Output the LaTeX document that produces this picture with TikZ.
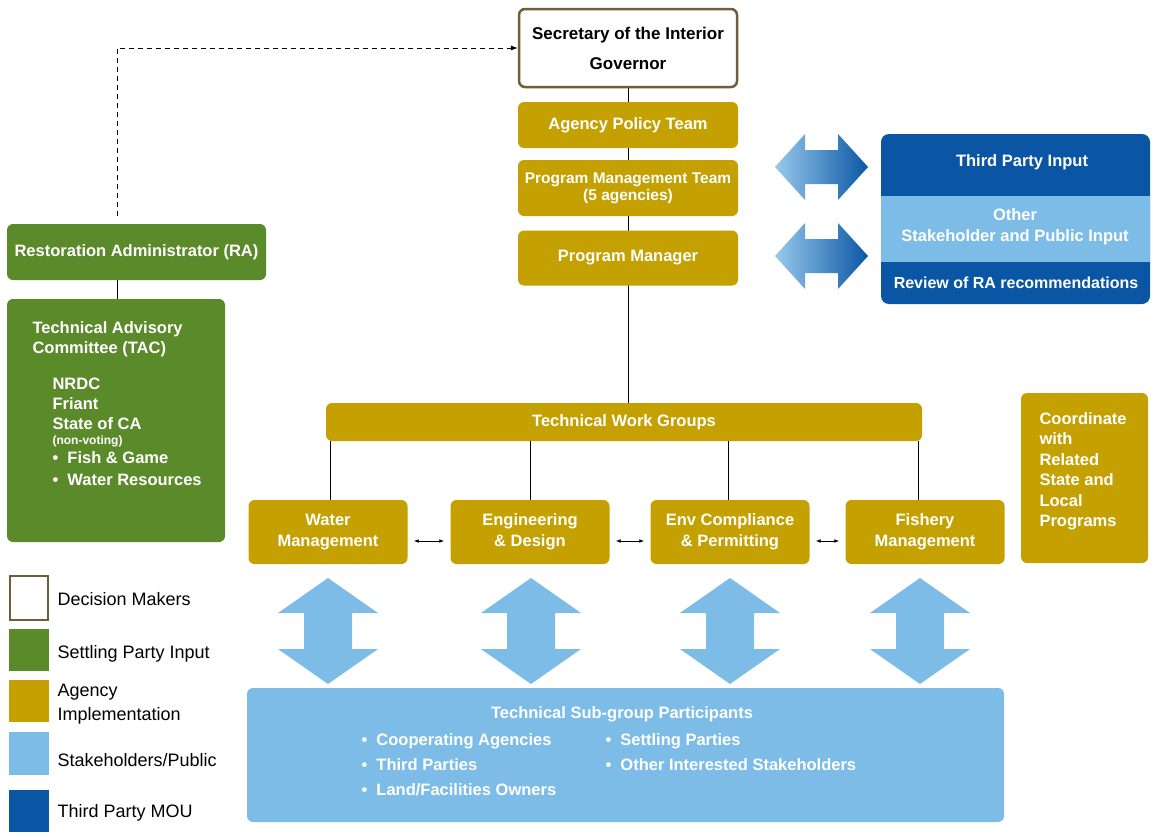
\documentclass[tikz,border=0pt]{standalone}
\usepackage{fontspec}
\setmainfont{Liberation Sans}
\usetikzlibrary{arrows.meta}
\definecolor{gold}{HTML}{C4A000}
\definecolor{grn}{HTML}{5B8A2B}
\definecolor{lblue}{HTML}{7DBCE7}
\definecolor{dblue}{HTML}{0B56A4}
\definecolor{brn}{HTML}{6E5E3A}
\tikzset{
 box/.style={rounded corners=6pt,draw=none,text=white,font=\bfseries\fontsize{16.5}{17}\selectfont,align=center,inner sep=0pt},
 gbox/.style={box,fill=gold},
 grbox/.style={box,fill=grn},
 ln/.style={line width=0.8pt,black},
 leg/.style={anchor=west,font=\fontsize{18}{20}\selectfont,align=left,text=black},
}
\begin{document}
\begin{tikzpicture}[x=1pt,y=-1pt]
\useasboundingbox (0,0) rectangle (1160,839);
\coordinate (v1) at (628,88);
\coordinate (v2) at (628,403);
\draw[ln] (v1)--(v2);
\node[box,fill=white,text=black,draw=brn,line width=2.5pt,minimum width=218pt,minimum height=78pt,font=\bfseries\fontsize{17}{18}\selectfont] (sec) at (628,48) {Secretary of the Interior\\[12pt]Governor};
\node[gbox,minimum width=220pt,minimum height=46pt] (apt) at (628,125) {Agency Policy Team};
\node[gbox,minimum width=220pt,minimum height=56pt,font=\bfseries\fontsize{15.5}{17}\selectfont] (pmt) at (628,188) {Program Management Team\\(5 agencies)};
\node[gbox,minimum width=220pt,minimum height=55pt] (pm) at (628,258) {Program Manager};
\node[gbox,minimum width=596pt,minimum height=38pt] (twg) at (624,422) {Technical Work Groups};
\foreach \n/\x/\t in {wm/328/Water\\Management, ed/530/Engineering\\\& Design, ec/730/Env Compliance\\\& Permitting, fm/925/Fishery\\Management}{
 \node[gbox,minimum width=159pt,minimum height=64pt,font=\bfseries\fontsize{16.5}{21}\selectfont] (\n) at (\x,532) {\t};
}
\foreach \n/\x in {wm/330,ed/530,ec/728,fm/918}{
 \coordinate (t\n) at (\x,441);
 \draw[ln] (t\n) -- (t\n |- \n.north);
}
\foreach \a/\b in {wm/ed,ed/ec,ec/fm}{
 \draw[ln,{Latex[length=5pt]}-{Latex[length=5pt]},shorten <=6pt,shorten >=6pt] ([yshift=-9pt]\a.east) -- ([yshift=-9pt]\b.west);
}
\foreach \cx in {328,531,730,920}{
 \fill[lblue] (\cx,578)--(\cx+50,613)--(\cx+24,613)--(\cx+24,649)--(\cx+50,649)--(\cx,684)--(\cx-50,649)--(\cx-24,649)--(\cx-24,613)--(\cx-50,613)--cycle;
}
\node[box,fill=lblue,minimum width=757pt,minimum height=134pt] (sub) at (625.5,755) {};
\node[font=\bfseries\fontsize{16.5}{17}\selectfont,text=white] (subt) at (622,714) {Technical Sub-group Participants};
\node[font=\bfseries\fontsize{16.5}{25}\selectfont,text=white,align=left,anchor=north west] (subl) at (358,730) {•\ \ Cooperating Agencies\\•\ \ Third Parties\\•\ \ Land/Facilities Owners};
\node[font=\bfseries\fontsize{16.5}{25}\selectfont,text=white,align=left,anchor=north west] (subr) at (602,730) {•\ \ Settling Parties\\•\ \ Other Interested Stakeholders};
% left
\node[grbox,minimum width=259pt,minimum height=56pt] (ra) at (136.5,252) {Restoration Administrator (RA)};
\node[grbox,minimum width=218pt,minimum height=243pt] (tac) at (116,420.5) {};
\draw[ln] (ra.south -| 117,0) -- (tac.north -| 117,0);
\node[font=\bfseries\fontsize{16.5}{20}\selectfont,text=white,align=left,anchor=north west] (tact) at (29,318) {Technical Advisory\\Committee (TAC)};
\node[font=\bfseries\fontsize{16.5}{24}\selectfont,text=white,align=left,anchor=north west] (tacl) at (49,374) {NRDC\\[-4pt]Friant\\[-4pt]State of CA\\[-9pt]{\fontsize{12}{12}\selectfont(non-voting)}\\[-5pt]•\ \ Fish \& Game\\[-2pt]•\ \ Water Resources};
\draw[ln,dash pattern=on 5pt off 4pt,-{Latex[length=7pt]}] (ra.north -| 117,0) ++(0,-8) |- (sec.west);
% right
\foreach \cy in {167,256}{
 \shade[left color=lblue!80!white,right color=dblue] (775,\cy)--(805,\cy-33)--(805,\cy-17)--(838,\cy-17)--(838,\cy-33)--(868,\cy)--(838,\cy+33)--(838,\cy+17)--(805,\cy+17)--(805,\cy+33)--cycle;
}
\fill[dblue,rounded corners=8pt] (881,134) rectangle (1150,304);
\fill[lblue] (881,196) rectangle (1150,262);
\node[font=\bfseries\fontsize{16.5}{17}\selectfont,text=white] (tp) at (1022,162) {Third Party Input};
\node[font=\bfseries\fontsize{16.5}{21}\selectfont,text=white,align=center] (os) at (1015,227) {Other\\Stakeholder and Public Input};
\node[font=\bfseries\fontsize{16}{17}\selectfont,text=white] (rv) at (1016,283) {Review of RA recommendations};
\node[gbox,minimum width=127pt,minimum height=170pt] (co) at (1084.5,478) {};
\node[font=\bfseries\fontsize{16.5}{20.5}\selectfont,text=white,align=left,anchor=north west] (cot) at (1036,409) {Coordinate\\with\\Related\\State and\\Local\\Programs};
% legend
\draw[brn,line width=2.5pt] (10,576) rectangle (48,620);
\fill[grn] (9,629) rectangle (49,671);
\fill[gold] (9,680) rectangle (49,722);
\fill[lblue] (9,732) rectangle (49,775);
\fill[dblue] (9,790) rectangle (49,832);
\node[leg] (l1) at (54,599) {Decision Makers};
\node[leg] (l2) at (54,654) {Settling Party Input};
\node[leg,font=\fontsize{18}{24}\selectfont] (l3) at (54,704) {Agency\\Implementation};
\node[leg] (l4) at (54,760) {Stakeholders/Public};
\node[leg] (l5) at (54,813) {Third Party MOU};
\end{tikzpicture}
\end{document}
